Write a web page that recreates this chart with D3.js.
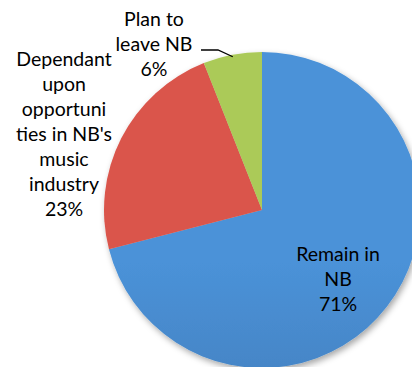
<!DOCTYPE html>
<html>
<head>
<meta charset="utf-8">
<script src="https://cdn.jsdelivr.net/npm/d3@7"></script>
<style>
  html, body { margin: 0; padding: 0; background: #fff; }
  svg { display: block; }
  text { font-family: Lato, "Open Sans", sans-serif; fill: #000; }
</style>
</head>
<body>
<svg id="chart" width="412" height="367"></svg>
<script>
// Survey shares
const categories = ["Remain in NB", "Dependant upon opportunities in NB's music industry", "Plan to leave NB"];
const values = [71, 23, 6];
const labelLines = [
  ["Remain in", "NB", "71%"],
  ["Dependant", "upon", "opportuni", "ties in NB's", "music", "industry", "23%"],
  ["Plan to", "leave NB", "6%"]
];
const topColors = ["#4b92d8", "#da554b", "#abca58"];
const bottomColors = ["#3a6ea6", "#ac4237", "#8eab48"];

const width = 412, height = 367;
const cx = 262, cy = 210, r = 158;

const svg = d3.select("#chart");
const defs = svg.append("defs");

// vertical shading per slice, across the full pie height
categories.forEach((c, i) => {
  const g = defs.append("linearGradient")
    .attr("id", "grad" + i)
    .attr("gradientUnits", "userSpaceOnUse")
    .attr("x1", 0).attr("y1", cy - r)
    .attr("x2", 0).attr("y2", cy + r);
  g.append("stop").attr("offset", "0%").attr("stop-color", topColors[i]);
  g.append("stop").attr("offset", "100%").attr("stop-color", bottomColors[i]);
});

const shadow = defs.append("filter").attr("id", "shadow")
  .attr("x", "-20%").attr("y", "-20%").attr("width", "140%").attr("height", "140%");
shadow.append("feDropShadow")
  .attr("dx", 2).attr("dy", 3).attr("stdDeviation", 3)
  .attr("flood-color", "#000").attr("flood-opacity", 0.35);

const pie = d3.pie().sort(null).value(d => d);
const arcs = pie(values);
const arc = d3.arc().innerRadius(0).outerRadius(r);

const g = svg.append("g").attr("transform", `translate(${cx},${cy})`);
g.append("g").attr("filter", "url(#shadow)")
  .selectAll("path")
  .data(arcs)
  .join("path")
  .attr("d", arc)
  .attr("fill", (d, i) => `url(#grad${i})`);

// data labels
const labelPos = [
  { x: 338, y: 261 },
  { x: 64, y: 66 },
  { x: 154, y: 26 }
];
const lineH = 25;
labelLines.forEach((lines, i) => {
  const t = svg.append("text")
    .attr("text-anchor", "middle")
    .attr("font-size", 19.5);
  lines.forEach((s, j) => {
    t.append("tspan")
      .attr("x", labelPos[i].x)
      .attr("y", labelPos[i].y + j * lineH)
      .text(s);
  });
});

// leader line for the small slice
const mid = (arcs[2].startAngle + arcs[2].endAngle) / 2;
const edge = [cx + Math.sin(mid) * (r - 2), cy - Math.cos(mid) * (r - 2)];
svg.append("path")
  .attr("d", d3.line()([[201, 50], [218, 50], edge]))
  .attr("fill", "none")
  .attr("stroke", "#000")
  .attr("stroke-width", 1.3);
</script>
</body>
</html>
